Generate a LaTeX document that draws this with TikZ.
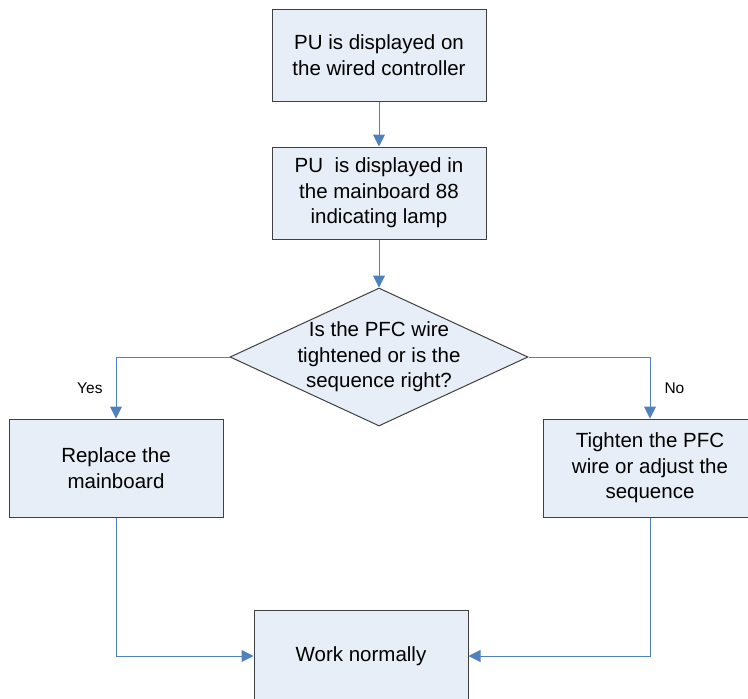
\documentclass[tikz,border=0pt]{standalone}
\usepackage{fontspec}
\setmainfont{Liberation Sans}
\usetikzlibrary{shapes.geometric,arrows.meta}
\definecolor{boxfill}{HTML}{E8EEF7}
\definecolor{boxline}{HTML}{404040}
\definecolor{linkblue}{HTML}{4F81BD}
\tikzset{
  procbox/.style={draw=boxline, fill=boxfill, line width=1pt, minimum width=214pt, minimum height=92pt, inner sep=0pt, align=center, font=\fontsize{20.5}{25.5}\selectfont},
  tallbox/.style={procbox, minimum height=98pt},
  decbox/.style={draw=boxline, fill=boxfill, line width=1pt, diamond, minimum width=298pt, minimum height=138pt, inner sep=-30pt, align=center, font=\fontsize{20.5}{25.5}\selectfont},
  link/.style={draw=linkblue, line width=1pt, -{Triangle[length=12pt,width=12pt]}},
  lbl/.style={inner sep=0pt, font=\fontsize{15.5}{18}\selectfont}
}
\begin{document}
\begin{tikzpicture}[x=1pt,y=-1pt]
\useasboundingbox (0,0) rectangle (748,699);
\node[procbox] (a) at (379,55) {PU is displayed on\\the wired controller};
\node[procbox] (b) at (379,193) {PU\ \ is displayed in\\the mainboard 88\\indicating lamp};
\node[decbox] (d) at (379,357) {Is the PFC wire\\tightened or is the\\sequence right?};
\node[tallbox] (l) at (116,468) {Replace the\\mainboard};
\node[tallbox] (r) at (650,468) {Tighten the PFC\\wire or adjust the\\sequence};
\node[procbox] (w) at (361,656) {Work normally};
\draw[link] (a) -- (b);
\draw[link] (b) -- (d);
\draw[link] (d.west) -| node[lbl, pos=0.75, left=13pt] {Yes} (l.north);
\draw[link] (d.east) -| node[lbl, pos=0.75, right=14pt] {No} (r.north);
\draw[link] (l.south) |- (w.west);
\draw[link] (r.south) |- (w.east);
\end{tikzpicture}
\end{document}
